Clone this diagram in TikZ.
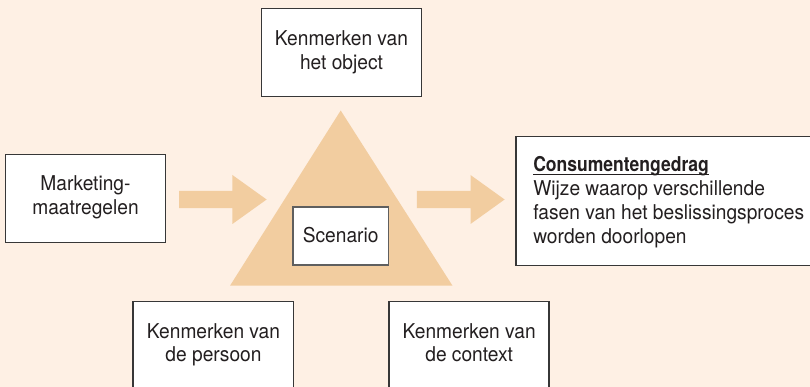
\documentclass[tikz,border=0pt]{standalone}
\usepackage{fontspec}
\setmainfont{TeX Gyre Heros}[FakeStretch=0.94, BoldFeatures={FakeStretch=0.86}]
\definecolor{bg}{RGB}{254,240,228}
\definecolor{tri}{RGB}{242,205,160}
\definecolor{ink}{RGB}{35,31,32}
\definecolor{edge}{RGB}{55,55,55}
\definecolor{edgelight}{RGB}{95,95,95}
\begin{document}
\begin{tikzpicture}[x=1pt,y=-1pt,
  box/.style={draw=edge, line width=1.1pt, fill=white, inner sep=0pt, outer sep=0pt, anchor=north west},
  txt/.style={inner sep=0pt, outer sep=0pt, anchor=base, text=ink, font=\fontsize{20.4}{23.7}\selectfont},
  txtl/.style={txt, anchor=base west},
  blockshape/.style={fill=tri, draw=none}]
\fill[bg] (0,0) rectangle (810,387);
\useasboundingbox (0,0) rectangle (810,387);
\clip (0,0) rectangle (810,387);

% triangle
\coordinate (apex) at (340.7,110.5);
\coordinate (bl) at (230,285.7);
\coordinate (br) at (452.5,285.7);
\fill[blockshape] (apex) -- (br) -- (bl) -- cycle;

% block arrows
\fill[blockshape] (179.2,190.8) -- (232.4,190.8) -- (232.4,175) -- (266.6,199.5) -- (232.4,224) -- (232.4,208.2) -- (179.2,208.2) -- cycle;
\fill[blockshape] (416.8,190.8) -- (470.5,190.8) -- (470.5,175) -- (504.6,199.5) -- (470.5,224) -- (470.5,208.2) -- (416.8,208.2) -- cycle;

% boxes
\node[box, minimum width=160pt, minimum height=88pt] (obj) at (261.5,8.3) {};
\node[box, minimum width=159.6pt, minimum height=88pt] (mkt) at (5.7,154.3) {};
\node[box, minimum width=160.4pt, minimum height=100pt] (pers) at (133,301.7) {};
\node[box, minimum width=160pt, minimum height=100pt] (ctx) at (389,301.7) {};
\node[box, minimum width=320pt, minimum height=128.8pt] (cons) at (516,136.7) {};
\node[box, draw=edgelight, minimum width=95.4pt, minimum height=58pt] (scen) at (293,207) {};

% texts
\node[txt] (obj1) at (341.5,45.5) {Kenmerken van};
\node[txt] (obj2) at (341.5,69.2) {het object};
\node[txt] (mkt1) at (85.5,190.7) {Marketing-};
\node[txt] (mkt2) at (85.5,214.3) {maatregelen};
\node[txt] (pers1) at (213.5,338) {Kenmerken van};
\node[txt] (pers2) at (213.5,361.7) {de persoon};
\node[txt] (ctx1) at (469.2,338) {Kenmerken van};
\node[txt] (ctx2) at (469.2,361.7) {de context};
\node[txt] (scen1) at (340.7,242.7) {Scenario};
\node[txtl] (cons1) at (533.3,172) {\bfseries Consumentengedrag};
\node[txtl] (cons2) at (533.3,196) {Wijze waarop verschillende};
\node[txtl] (cons3) at (533.3,220) {fasen van het beslissingsproces};
\node[txtl] (cons4) at (533.3,243.8) {worden doorlopen};
\draw[ink, line width=1.2pt] ([yshift=-2.7pt]cons1.base west) -- ([yshift=-2.7pt]cons1.base east);
\end{tikzpicture}
\end{document}
